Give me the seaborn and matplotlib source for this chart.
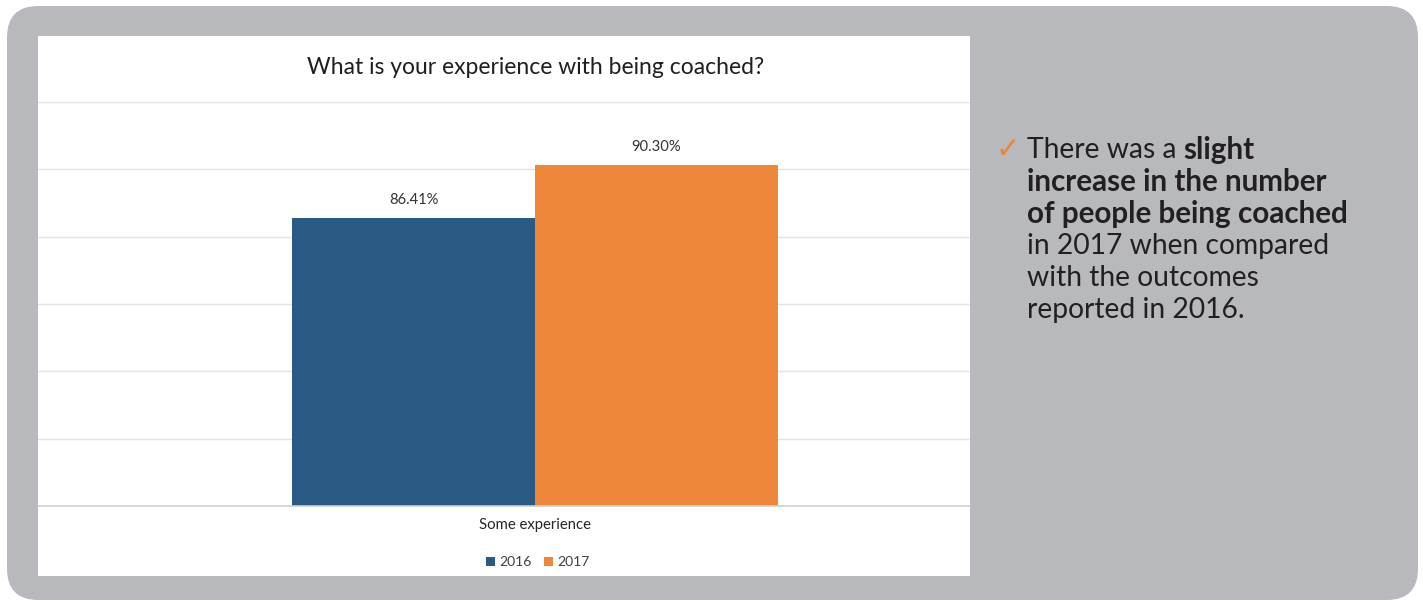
import matplotlib
matplotlib.use("Agg")
import matplotlib.pyplot as plt
from matplotlib.patches import FancyBboxPatch, Rectangle, Patch
import pandas as pd
import seaborn as sns

# ---- data ----
categories = ["Some experience"]
years = ["2016", "2017"]
values = [86.41, 90.30]
y_ticks = [65, 70, 75, 80, 85, 90, 95]

title = "What is your experience with being coached?"
BLUE = "#285a84"
ORANGE = "#ef873a"
PANEL = "#b8b9bd"

df = pd.DataFrame({
    "category": [categories[0]] * len(years),
    "year": years,
    "value": values,
})

sns.set_theme(style="white")
plt.rcParams["font.family"] = ["Lato", "DejaVu Sans"]

W, H = 1423, 601
fig = plt.figure(figsize=(W / 100, H / 100), dpi=100)
fig.patch.set_facecolor("white")


def fx(px):
    return px / W


def fy(py):
    return 1 - py / H


# rounded grey panel
panel = FancyBboxPatch((fx(7), fy(600)), fx(1418 - 7), (600 - 6) / H,
                       boxstyle="round,pad=0,rounding_size=0.022",
                       mutation_aspect=W / H,
                       transform=fig.transFigure, facecolor=PANEL,
                       edgecolor="none", zorder=0)
fig.patches.append(panel)

# white chart card
card = Rectangle((fx(38), fy(576)), fx(970 - 38), (576 - 36) / H,
                 transform=fig.transFigure, facecolor="white",
                 edgecolor="none", zorder=1)
fig.patches.append(card)

# plotting area
ax = fig.add_axes([fx(38), fy(506), fx(970 - 38), (506 - 102) / H])
ax.set_facecolor("none")
ax.set_zorder(2)

sns.barplot(data=df, x="category", y="value", hue="year",
            palette=[BLUE, ORANGE], saturation=1, width=0.8,
            linewidth=0, legend=False, ax=ax)

ax.set_ylim(y_ticks[0], y_ticks[-1])
ax.set_xlim(-0.818, 0.716)
ax.set_yticks(y_ticks)
ax.set_yticklabels([])
ax.yaxis.grid(True, color="#e4e4e4", linewidth=1)
ax.set_axisbelow(True)
ax.tick_params(axis="both", length=0)
ax.tick_params(axis="x", pad=9, labelsize=10.7, labelcolor="#262626")
ax.set_xlabel("")
ax.set_ylabel("")
for side in ["top", "left", "right"]:
    ax.spines[side].set_visible(False)
ax.spines["bottom"].set_color("#cfcfcf")
ax.spines["bottom"].set_linewidth(1.2)

for cont in ax.containers:
    ax.bar_label(cont, fmt="%.2f%%", padding=8, fontsize=10.6, color="#333333")

# title
fig.text(fx(536), fy(67), title, ha="center", va="center",
         fontsize=16.5, color="#1f1f1f", zorder=3)

# legend
handles = [Patch(facecolor=c, edgecolor="none") for c in [BLUE, ORANGE]]
fig.legend(handles, years, loc="center", bbox_to_anchor=(fx(538), fy(562)),
           ncol=2, frameon=False, fontsize=10, handlelength=0.6,
           handleheight=0.6, handletextpad=0.35, columnspacing=0.9,
           labelcolor="#404040")

# commentary on the right
tfam = ["Lato", "DejaVu Sans"]
tcol = "#231f20"
bold_size = 21.3
reg_size = 20.3
x0 = fx(1027)
lines_y = [150, 182, 214, 246, 278, 310]

fig.text(fx(1008), fy(lines_y[0]), "\u2713", ha="center", va="center",
         fontsize=21, color="#f0832a", family=["DejaVu Sans"])

t1 = fig.text(x0, fy(lines_y[0]), "There was a ", ha="left", va="center",
              fontsize=reg_size, color=tcol, family=tfam, fontweight="normal")
fig.canvas.draw()
bb = t1.get_window_extent()
fig.text(bb.x1 / W, fy(lines_y[0]), "slight", ha="left", va="center",
         fontsize=bold_size, color=tcol, family=tfam, fontweight="bold")

rest = [("increase in the number", "bold"),
        ("of people being coached", "bold"),
        ("in 2017 when compared", "normal"),
        ("with the outcomes", "normal"),
        ("reported in 2016.", "normal")]
for (txt, wt), yy in zip(rest, lines_y[1:]):
    fig.text(x0, fy(yy), txt, ha="left", va="center",
             fontsize=bold_size if wt == "bold" else reg_size,
             color=tcol, family=tfam, fontweight=wt)

fig.savefig("out.png", dpi=100, facecolor="white")
